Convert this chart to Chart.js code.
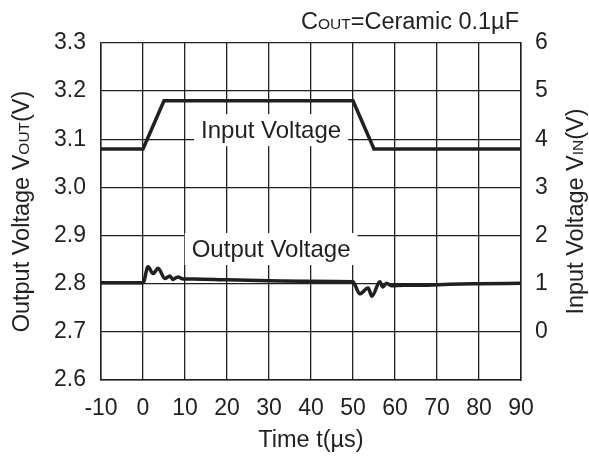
<!DOCTYPE html>
<html>
<head>
<meta charset="utf-8">
<script src="https://cdn.jsdelivr.net/npm/chart.js@4/dist/chart.umd.min.js"></script>
<style>
  html, body { margin: 0; padding: 0; background: #ffffff; }
  #c { display: block; }
</style>
</head>
<body>
<canvas id="c" width="589" height="458"></canvas>
<script>
// Time axis (µs)
const timeTicks = [-10, 0, 10, 20, 30, 40, 50, 60, 70, 80, 90];

// Input voltage step: 3.8 V -> 4.8 V -> 3.8 V (right axis, V)
const inTime = [-10, 0, 5, 50, 55, 90];
const vIn    = [3.8, 3.8, 4.8, 4.8, 3.8, 3.8];

// Output voltage response (left axis, V)
const outTime = [-10, 0, 1.2, 2.4, 3.6, 5.2, 6.4, 7.1, 8.3, 9.6, 12, 20, 30, 40, 50,
                 50.5, 51.6, 53.6, 54.5, 56.4, 57.1, 58, 59.1, 62, 66, 73, 80, 90];
const vOut    = [2.802, 2.802, 2.835, 2.821, 2.832, 2.811, 2.816, 2.809, 2.814, 2.810, 2.810, 2.808, 2.806, 2.805, 2.804,
                 2.797, 2.779, 2.791, 2.774, 2.804, 2.793, 2.801, 2.796, 2.797, 2.797, 2.799, 2.800, 2.801];

// Axis ranges
const leftRange  = [2.6, 3.3];
const rightRange = [-1, 6];

// In-plot curve labels (time, left-axis voltage)
const curveLabels = ['Input Voltage', 'Output Voltage'];
const curveLabelT = [30.5, 30.5];
const curveLabelV = [3.119, 2.872];

const FONT = "'Liberation Sans', Arial, Helvetica, sans-serif";
const INK = '#231f20';

function pts(xs, ys) { return xs.map((x, i) => ({ x: x, y: ys[i] })); }

// Draw a run of text pieces; pieces marked small are drawn as small capitals on the same baseline
function richWidth(ctx, parts, big, small) {
  let w = 0;
  parts.forEach(p => {
    ctx.font = (p.small ? small : big) + 'px ' + FONT;
    w += ctx.measureText(p.t).width;
  });
  return w;
}
function drawRich(ctx, parts, x, y, big, small) {
  let cx = x;
  parts.forEach(p => {
    ctx.font = (p.small ? small : big) + 'px ' + FONT;
    ctx.fillText(p.t, cx, y);
    cx += ctx.measureText(p.t).width;
  });
}

const textPlugin = {
  id: 'texts',
  beforeDatasetsDraw(chart) {
    const ctx = chart.ctx;
    const xs = chart.scales.x, ys = chart.scales.y;
    ctx.save();
    ctx.textBaseline = 'middle';
    ctx.textAlign = 'left';
    ctx.font = '24px ' + FONT;
    curveLabels.forEach((txt, i) => {
      const px = xs.getPixelForValue(curveLabelT[i]);
      const py = ys.getPixelForValue(curveLabelV[i]);
      const w = ctx.measureText(txt).width;
      ctx.fillStyle = '#ffffff';
      ctx.fillRect(px - w / 2 - 7, py - 16, w + 14, 32);
      ctx.fillStyle = INK;
      ctx.fillText(txt, px - w / 2, py + 1);
    });
    ctx.restore();
  },
  afterDraw(chart) {
    const ctx = chart.ctx;
    const a = chart.chartArea;
    ctx.save();
    ctx.fillStyle = INK;
    ctx.textBaseline = 'alphabetic';
    ctx.textAlign = 'left';

    // Condition note, right-aligned above the plot
    const note = [{ t: 'C' }, { t: 'OUT', small: true }, { t: '=Ceramic 0.1µF' }];
    const nw = richWidth(ctx, note, 23.5, 15.5);
    drawRich(ctx, note, a.right - 2 - nw, 29, 23.5, 15.5);

    // X axis title
    const xt = [{ t: 'Time t(µs)' }];
    const xw = richWidth(ctx, xt, 23.5, 15.5);
    drawRich(ctx, xt, (a.left + a.right) / 2 - xw / 2, 447, 23.5, 15.5);

    // Left axis title
    const lt = [{ t: 'Output Voltage V' }, { t: 'OUT', small: true }, { t: '(V)' }];
    const lw = richWidth(ctx, lt, 23.5, 15.5);
    ctx.save();
    ctx.translate(29, (a.top + a.bottom) / 2);
    ctx.rotate(-Math.PI / 2);
    drawRich(ctx, lt, -lw / 2, 0, 23.5, 15.5);
    ctx.restore();

    // Right axis title
    const rt = [{ t: 'Input Voltage V' }, { t: 'IN', small: true }, { t: '(V)' }];
    const rw = richWidth(ctx, rt, 23.5, 15.5);
    ctx.save();
    ctx.translate(583, (a.top + a.bottom) / 2);
    ctx.rotate(-Math.PI / 2);
    drawRich(ctx, rt, -rw / 2, 0, 23.5, 15.5);
    ctx.restore();

    ctx.restore();
  }
};

new Chart(document.getElementById('c'), {
  type: 'line',
  data: {
    datasets: [
      {
        label: 'Input Voltage',
        data: pts(inTime, vIn),
        yAxisID: 'y2',
        borderColor: INK,
        borderWidth: 3.5,
        pointRadius: 0,
        tension: 0,
        fill: false
      },
      {
        label: 'Output Voltage',
        data: pts(outTime, vOut),
        yAxisID: 'y',
        borderColor: INK,
        borderWidth: 3.5,
        pointRadius: 0,
        cubicInterpolationMode: 'monotone',
        fill: false
      }
    ]
  },
  options: {
    responsive: false,
    devicePixelRatio: 1,
    animation: false,
    layout: { padding: { top: 43, left: 0, right: 0, bottom: 0 } },
    plugins: { legend: { display: false }, tooltip: { enabled: false } },
    scales: {
      x: {
        type: 'linear',
        min: timeTicks[0],
        max: timeTicks[timeTicks.length - 1],
        afterBuildTicks(s) { s.ticks = timeTicks.map(v => ({ value: v })); },
        ticks: { color: INK, font: { family: FONT, size: 23 }, padding: 15, maxRotation: 0, autoSkip: false },
        grid: { color: INK, lineWidth: 1.3, drawTicks: false },
        border: { color: INK, width: 1.5 },
        afterFit(s) { s.height = 78; }
      },
      y: {
        position: 'left',
        min: leftRange[0],
        max: leftRange[1],
        ticks: { stepSize: 0.1, color: INK, font: { family: FONT, size: 23 }, padding: 15,
                 callback: v => Number(v).toFixed(1) },
        grid: { color: INK, lineWidth: 1.3, drawTicks: false },
        border: { color: INK, width: 1.5 },
        afterFit(s) { s.width = 101; }
      },
      y2: {
        position: 'right',
        min: rightRange[0],
        max: rightRange[1],
        ticks: { stepSize: 1, color: INK, font: { family: FONT, size: 23 }, padding: 14,
                 callback: v => (v < 0 ? '' : String(v)) },
        grid: { display: false, drawTicks: false },
        border: { color: INK, width: 1.5 },
        afterFit(s) { s.width = 68; }
      }
    }
  },
  plugins: [textPlugin]
});
</script>
</body>
</html>
